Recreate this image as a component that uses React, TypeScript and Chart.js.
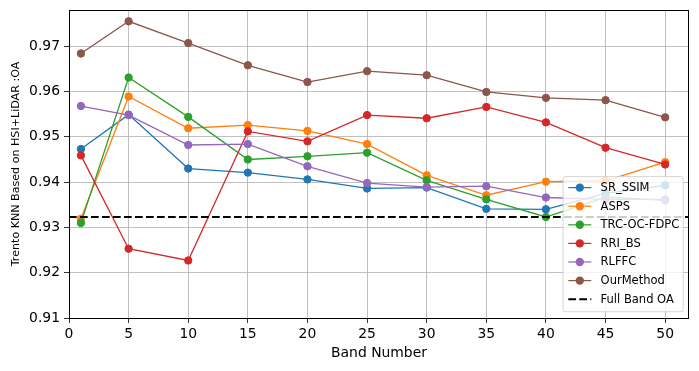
import { useEffect, useRef } from "react";
import { Chart, registerables } from "chart.js";

Chart.register(...registerables);

const bandNumbers = [1, 5, 10, 15, 20, 25, 30, 35, 40, 45, 50];

const srSsim = [0.9473, 0.9549, 0.943, 0.9421, 0.9406, 0.9386, 0.9388, 0.9341, 0.934, 0.9375, 0.9393];
const asps = [0.9319, 0.9589, 0.9519, 0.9526, 0.9513, 0.9484, 0.9415, 0.9371, 0.9401, 0.9403, 0.9444];
const trcOcFdpc = [0.931, 0.9631, 0.9544, 0.945, 0.9457, 0.9465, 0.9404, 0.9362, 0.9323, 0.9367, 0.936];
const rriBs = [0.9459, 0.9253, 0.9227, 0.9512, 0.949, 0.9548, 0.9541, 0.9566, 0.9532, 0.9476, 0.9439];
const rlffc = [0.9568, 0.9548, 0.9482, 0.9484, 0.9435, 0.9398, 0.9389, 0.9391, 0.9366, 0.9362, 0.9362];
const ourMethod = [0.9684, 0.9755, 0.9707, 0.9658, 0.9621, 0.9645, 0.9636, 0.9599, 0.9586, 0.9581, 0.9543];
const fullBandOA = 0.9323;

const seriesNames = ["SR_SSIM", "ASPS", "TRC-OC-FDPC", "RRI_BS", "RLFFC", "OurMethod"];
const seriesValues = [srSsim, asps, trcOcFdpc, rriBs, rlffc, ourMethod];
const seriesColors = ["#1f77b4", "#ff7f0e", "#2ca02c", "#d62728", "#9467bd", "#8c564b"];
const fullBandLabel = "Full Band OA";

const xTicks = [0, 5, 10, 15, 20, 25, 30, 35, 40, 45, 50];
const yTicks = [0.91, 0.92, 0.93, 0.94, 0.95, 0.96, 0.97];
const xMin = 0;
const xMax = 52;
const yMin = 0.91;
const yMax = 0.978;

const FONT = "'DejaVu Sans', sans-serif";

const framePlugin = {
  id: "frame",
  afterDraw(chart: any) {
    const { ctx, chartArea } = chart;
    ctx.save();
    ctx.strokeStyle = "#000";
    ctx.lineWidth = 1;
    ctx.strokeRect(
      Math.round(chartArea.left) + 0.5,
      Math.round(chartArea.top) + 0.5,
      Math.round(chartArea.right - chartArea.left) - 1,
      Math.round(chartArea.bottom - chartArea.top)
    );
    ctx.restore();
  },
};

const legendPlugin = {
  id: "mplLegend",
  afterDraw(chart: any) {
    const { ctx, chartArea } = chart;
    const fs = 11.5;
    ctx.save();
    ctx.font = `${fs}px ${FONT}`;
    const labels = [...seriesNames, fullBandLabel];
    let maxW = 0;
    labels.forEach((l) => {
      maxW = Math.max(maxW, ctx.measureText(l).width);
    });
    const pad = 4.6;
    const handle = 23;
    const gap = 9.3;
    const rowH = 18.6;
    const boxW = pad + handle + gap + maxW + pad;
    const boxH = pad * 2 + rowH * labels.length - 5.8 + 1.5;
    const right = chartArea.right - 5.8;
    const bottom = chartArea.bottom - 6.3;
    const left = right - boxW;
    const top = bottom - boxH;
    const r = 2.3;
    ctx.beginPath();
    ctx.moveTo(left + r, top);
    ctx.lineTo(right - r, top);
    ctx.arcTo(right, top, right, top + r, r);
    ctx.lineTo(right, bottom - r);
    ctx.arcTo(right, bottom, right - r, bottom, r);
    ctx.lineTo(left + r, bottom);
    ctx.arcTo(left, bottom, left, bottom - r, r);
    ctx.lineTo(left, top + r);
    ctx.arcTo(left, top, left + r, top, r);
    ctx.closePath();
    ctx.fillStyle = "rgba(255,255,255,0.8)";
    ctx.fill();
    ctx.strokeStyle = "rgba(204,204,204,0.8)";
    ctx.lineWidth = 1;
    ctx.stroke();

    const x0 = left + pad + 0.6;
    const firstY = top + pad + 6.4;
    labels.forEach((label, i) => {
      const y = firstY + i * rowH;
      if (i < seriesNames.length) {
        const c = seriesColors[i];
        ctx.strokeStyle = c;
        ctx.lineWidth = 1.2;
        ctx.setLineDash([]);
        ctx.beginPath();
        ctx.moveTo(x0, y);
        ctx.lineTo(x0 + handle, y);
        ctx.stroke();
        ctx.fillStyle = c;
        ctx.beginPath();
        ctx.arc(x0 + handle / 2, y, 4.2, 0, Math.PI * 2);
        ctx.fill();
      } else {
        ctx.strokeStyle = "#000";
        ctx.lineWidth = 2;
        ctx.setLineDash([7.7, 3.3]);
        ctx.beginPath();
        ctx.moveTo(x0, y);
        ctx.lineTo(x0 + handle, y);
        ctx.stroke();
        ctx.setLineDash([]);
      }
      ctx.fillStyle = "#000";
      ctx.textAlign = "left";
      ctx.textBaseline = "middle";
      ctx.fillText(label, x0 + handle + gap, y + 0.5);
    });
    ctx.restore();
  },
};

export default function App() {
  const ref = useRef<HTMLCanvasElement | null>(null);

  useEffect(() => {
    document.body.style.margin = "0";
    if (!ref.current) return;
    const n = seriesNames.length;
    const datasets: any[] = seriesNames.map((name, i) => ({
      label: name,
      data: bandNumbers.map((b, j) => ({ x: b, y: seriesValues[i][j] })),
      borderColor: seriesColors[i],
      backgroundColor: seriesColors[i],
      borderWidth: 1.3,
      pointRadius: 3.7,
      pointBorderWidth: 1,
      pointBorderColor: seriesColors[i],
      pointBackgroundColor: seriesColors[i],
      tension: 0,
      order: n + 1 - i,
      clip: false,
    }));
    datasets.push({
      label: fullBandLabel,
      data: [
        { x: xMin, y: fullBandOA },
        { x: xMax, y: fullBandOA },
      ],
      borderColor: "#000",
      borderWidth: 2,
      borderDash: [7.7, 3.3],
      pointRadius: 0,
      order: 0,
    });

    const chart = new Chart(ref.current, {
      type: "line",
      data: { datasets },
      options: {
        animation: false,
        responsive: false,
        devicePixelRatio: 1,
        layout: { padding: { top: 10, right: 10, left: 0, bottom: 0 } },
        plugins: {
          legend: { display: false },
          tooltip: { enabled: false },
        },
        scales: {
          x: {
            type: "linear",
            min: xMin,
            max: xMax,
            afterBuildTicks: (axis: any) => {
              axis.ticks = xTicks.map((v) => ({ value: v }));
            },
            afterFit: (s: any) => {
              s.height = 53;
              s.paddingLeft = 0;
              s.paddingRight = 0;
            },
            grid: {
              color: "#b0b0b0",
              lineWidth: 0.8,
              tickColor: "#000",
              tickLength: 5,
            },
            border: { display: false },
            ticks: {
              color: "#000",
              font: { family: FONT, size: 13.9 },
              padding: 3,
              maxRotation: 0,
              autoSkip: false,
              callback: (v: any) => String(v),
            },
            title: {
              display: true,
              text: "Band Number",
              color: "#000",
              font: { family: FONT, size: 13.9 },
              padding: { top: 0, bottom: 9 },
            },
          },
          y: {
            type: "linear",
            min: yMin,
            max: yMax,
            afterBuildTicks: (axis: any) => {
              axis.ticks = yTicks.map((v) => ({ value: v }));
            },
            afterFit: (s: any) => {
              s.width = 69;
              s.paddingTop = 0;
              s.paddingBottom = 0;
            },
            grid: {
              color: "#b0b0b0",
              lineWidth: 0.8,
              tickColor: "#000",
              tickLength: 5,
            },
            border: { display: false },
            ticks: {
              color: "#000",
              font: { family: FONT, size: 13.9 },
              padding: 4,
              autoSkip: false,
              callback: (v: any) => Number(v).toFixed(2),
            },
            title: {
              display: true,
              text: "Trento KNN Based on HSI+LiDAR :OA",
              color: "#000",
              font: { family: FONT, size: 11.1 },
              padding: { top: 9, bottom: 0 },
            },
          },
        },
      },
      plugins: [framePlugin, legendPlugin],
    });
    return () => chart.destroy();
  }, []);

  return (
    <div style={{ width: 699, height: 371 }}>
      <canvas ref={ref} width={699} height={371} style={{ display: "block", width: 699, height: 371 }} />
    </div>
  );
}
